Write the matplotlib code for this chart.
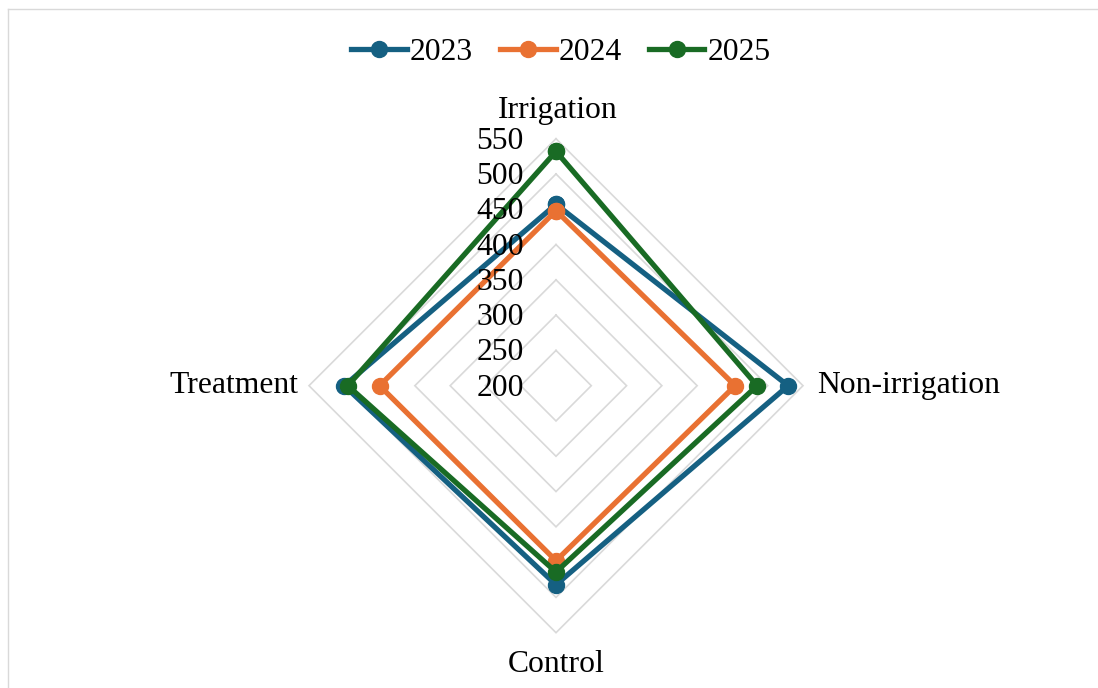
import numpy as np
import matplotlib
matplotlib.use("Agg")
import matplotlib.pyplot as plt
from matplotlib.lines import Line2D

# Categories (clockwise from top) and yearly values
categories = ["Irrigation", "Non-irrigation", "Control", "Treatment"]
years = ["2023", "2024", "2025"]
values_2023 = [457, 529, 482, 500]
values_2024 = [448, 454, 448, 450]
values_2025 = [532, 485, 464, 495]
series = [values_2023, values_2024, values_2025]
colors = ["#156082", "#E97132", "#196B24"]

r_min, r_max, r_step = 200, 550, 50
tick_values = list(range(r_min, r_max + 1, r_step))

plt.rcParams["font.family"] = ["Liberation Serif", "DejaVu Serif"]
FS = 22.8

W, H, DPI = 1098, 688, 100
fig = plt.figure(figsize=(W / DPI, H / DPI), dpi=DPI)

# Axes placed so the chart centre and scale sit where intended (pixel units)
cx, cy = 556, 385.7          # centre in pixels from top-left
R_px = 247.0                 # pixel radius of outermost ring
half = 300.0                 # half size of the axes box in pixels
lim = half / R_px * (r_max - r_min)
ax = fig.add_axes([(cx - half) / W, (H - cy - half) / H, 2 * half / W, 2 * half / H])
ax.set_xlim(-lim, lim)
ax.set_ylim(-lim, lim)
ax.set_aspect("equal", adjustable="box")
ax.axis("off")

n = len(categories)
theta = np.arange(n) * 2 * np.pi / n  # clockwise from the top


def to_xy(vals):
    r = np.asarray(vals, dtype=float) - r_min
    return r * np.sin(theta), r * np.cos(theta)


# Diamond grid rings
for tv in tick_values[1:]:
    gx, gy = to_xy([tv] * n)
    ax.plot(np.append(gx, gx[0]), np.append(gy, gy[0]), color="#d9d9d9",
            lw=1.2, zorder=1, solid_joinstyle="miter")

# Series
LW, MS = 3.8, 11.5
for name, vals, col in zip(years, series, colors):
    x, y = to_xy(vals)
    ax.plot(np.append(x, x[0]), np.append(y, y[0]), color=col, lw=LW,
            marker="o", markersize=MS, zorder=3, label=name,
            solid_joinstyle="miter")

# Radial tick labels along the top spoke
for tv in tick_values:
    ax.annotate(str(tv), xy=(0, tv - r_min), xytext=(-32, -10),
                textcoords="offset pixels", ha="right", va="baseline",
                fontsize=FS, color="black", zorder=4)

# Category labels
ex, ey = to_xy([r_max] * n)
offsets = [(2, 28, "center", "center"),
           (14, 0, "left", "center"),
           (0, -32, "center", "center"),
           (-11, 0, "right", "center")]
for cat, x0, y0, (dx, dy, ha, va) in zip(categories, ex, ey, offsets):
    ax.annotate(cat, xy=(x0, y0), xytext=(dx, dy), textcoords="offset pixels",
                ha=ha, va=va, fontsize=FS, color="black")

# Legend
handles = [Line2D([0], [0], color=c, lw=LW, marker="o", markersize=MS)
           for c in colors]
fig.legend(handles, years, loc="center", bbox_to_anchor=(561 / W, 1 - 52 / H),
           ncol=3, frameon=False, fontsize=FS, handlelength=1.75,
           handletextpad=0.1, columnspacing=0.85, borderpad=0)

# Chart area border (top and left edges)
border = "#d9d9d9"
fig.add_artist(Line2D([8 / W, 1], [1 - 9 / H, 1 - 9 / H], color=border,
                      lw=1.0, transform=fig.transFigure))
fig.add_artist(Line2D([8 / W, 8 / W], [0, 1 - 9 / H], color=border,
                      lw=1.0, transform=fig.transFigure))

fig.savefig("out.png", dpi=DPI, facecolor="white")
